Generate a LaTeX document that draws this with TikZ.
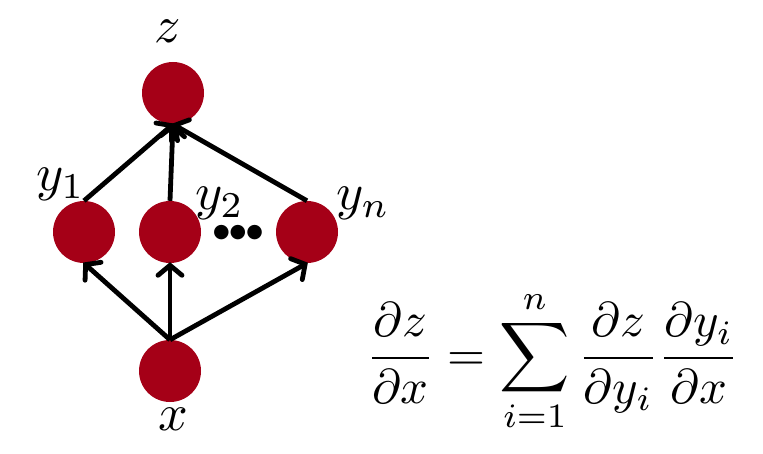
\documentclass[tikz,border=0pt]{standalone}
\usepackage[no-math]{fontspec}
\newfontfamily\dejavu{DejaVu Sans}
\usetikzlibrary{arrows.meta}
\definecolor{nodered}{RGB}{165,0,23}
\newcommand{\enlargetext}[1]{\scalebox{5.2}{#1}}
\newcommand{\enlargeeq}[1]{\scalebox{4.88}{#1}}
\tikzset{
  unit/.style={circle, fill=nodered, minimum size=62pt, inner sep=0pt},
  conn/.style={line width=4.8pt, -{Straight Barb[length=10pt,width=24pt,line cap=round]}, shorten >=-1pt},
  lbl/.style={inner sep=0pt},
}
\begin{document}
\begin{tikzpicture}[x=1pt,y=-1pt]
\useasboundingbox (0,0) rectangle (763,454);
\node[unit] (z) at (173,93) {};
\node[unit] (y1) at (84,232) {};
\node[unit] (y2) at (170,232) {};
\node[unit] (yn) at (307,232) {};
\node[unit] (x) at (170,371) {};
\draw[conn] (y1.north) -- (z.south);
\draw[conn] (y2.north) -- (z.south);
\draw[conn] (yn.north) -- (z.south);
\draw[conn] (x.north) -- (y1.south);
\draw[conn] (x.north) -- (y2.south);
\draw[conn] (x.north) -- (yn.south);
\node[lbl, anchor=base] (lz) at (168,43) {\enlargetext{$z$}};
\node[lbl, anchor=base west] (ly1) at (36,191) {\enlargetext{$y_1$}};
\node[lbl, anchor=base west] (ly2) at (195,210) {\enlargetext{$y_2$}};
\node[lbl, anchor=base west] (lyn) at (336,210) {\enlargetext{$y_n$}};
\node[lbl, anchor=base] (lx) at (173,430) {\enlargetext{$x$}};
\node[inner sep=0pt, font=\dejavu\fontsize{19}{19}\selectfont] (dots) at (238,233) {●●●};
\node[lbl, anchor=base west] (eq) at (366,370) {\enlargeeq{$\displaystyle \frac{\partial z}{\partial x} = \sum_{i=1}^{n} \frac{\partial z}{\partial y_i}\frac{\partial y_i}{\partial x}$}};
\end{tikzpicture}
\end{document}
